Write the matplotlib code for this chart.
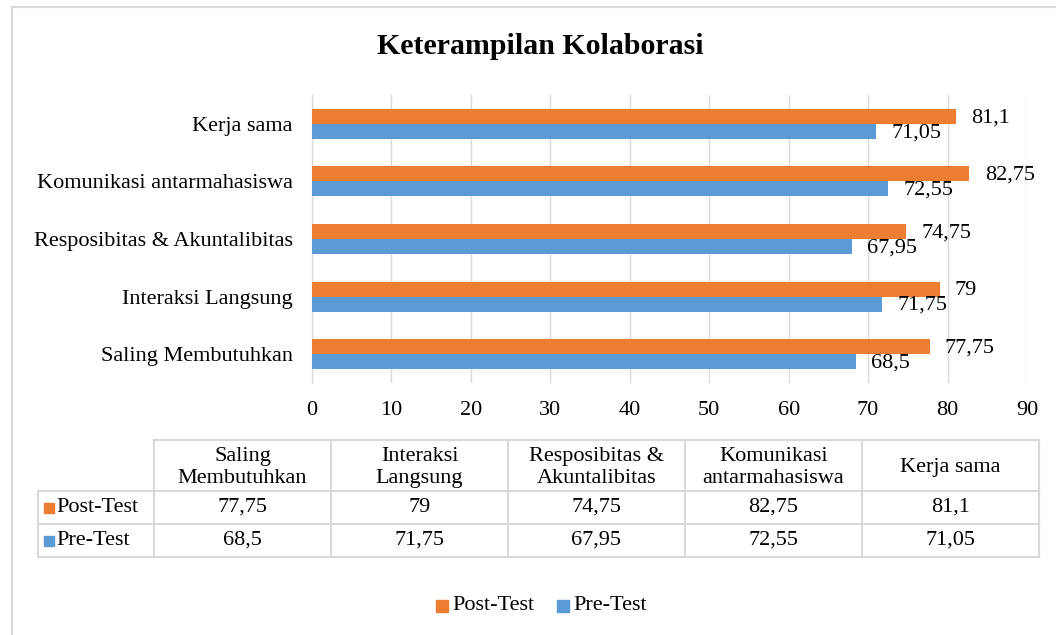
import matplotlib
matplotlib.use("Agg")
import matplotlib.pyplot as plt
from matplotlib.patches import Rectangle
import numpy as np

plt.rcParams['font.family'] = ['Liberation Serif', 'DejaVu Serif']

categories = ["Saling Membutuhkan", "Interaksi Langsung", "Resposibitas & Akuntalibitas",
              "Komunikasi antarmahasiswa", "Kerja sama"]
table_headers = ["Saling\nMembutuhkan", "Interaksi\nLangsung", "Resposibitas &\nAkuntalibitas",
                 "Komunikasi\nantarmahasiswa", "Kerja sama"]
post_test = [77.75, 79, 74.75, 82.75, 81.1]
pre_test = [68.5, 71.75, 67.95, 72.55, 71.05]
series_names = ["Post-Test", "Pre-Test"]
x_ticks = [0, 10, 20, 30, 40, 50, 60, 70, 80, 90]

ORANGE = "#ED7D31"
BLUE = "#5B9BD5"
GRID = "#D9D9D9"
FS = 16

W, H = 1056, 635
fig = plt.figure(figsize=(W / 100, H / 100), dpi=100)

def fx(px):
    return px / W

def fy(py):
    return 1 - py / H

def fmt(v):
    return f"{v:g}".replace(".", ",")

# Overlay axes in pixel coordinates for chart frame, title, table, legend
ov = fig.add_axes([0, 0, 1, 1])
ov.set_xlim(0, W)
ov.set_ylim(H, 0)
ov.axis("off")
ov.plot([12, 12, W + 5], [H + 5, 7, 7], color="#D9D9D9", lw=1.5)

# Title
ov.text(540, 47, "Keterampilan Kolaborasi", ha="center", va="center",
        fontsize=21.5, fontweight="bold")

# Main bar axes
left, right, top, bottom = 312, 1027, 95, 383
ax = fig.add_axes([fx(left), fy(bottom), fx(right) - fx(left), (bottom - top) / H])
y = np.arange(len(categories))
bh = 0.26
ax.barh(y + bh / 2, post_test, height=bh, color=ORANGE, zorder=3)
ax.barh(y - bh / 2, pre_test, height=bh, color=BLUE, zorder=3)
for yi, v in zip(y, post_test):
    ax.annotate(fmt(v), (v, yi + bh / 2), xytext=(11, -1), textcoords="offset points",
                ha="left", va="center", fontsize=FS)
for yi, v in zip(y, pre_test):
    ax.annotate(fmt(v), (v, yi - bh / 2), xytext=(11, -1), textcoords="offset points",
                ha="left", va="center", fontsize=FS)
ax.set_xlim(0, 90)
ax.set_ylim(-0.5, len(categories) - 0.5)
ax.set_xticks(x_ticks)
ax.set_xticklabels([str(t) for t in x_ticks], fontsize=FS)
ax.set_yticks(y)
ax.set_yticklabels(categories, fontsize=FS)
ax.tick_params(length=0, pad=14)
ax.tick_params(axis="x", pad=13)
ax.grid(axis="x", color=GRID, lw=1, zorder=0)
for s in ["top", "right", "bottom"]:
    ax.spines[s].set_visible(False)
ax.spines["left"].set_color(GRID)

# Data table
tl, tr = 154, 1039
rowl = 38
ys = [440, 491, 524, 557]
ncol = len(categories)
colx = np.linspace(tl, tr, ncol + 1)
lc = "#D9D9D9"
ov.plot([tl, tr], [ys[0], ys[0]], color=lc, lw=1.5)
for r in ys[1:]:
    ov.plot([rowl, tr], [r, r], color=lc, lw=1.5)
for cx in colx:
    ov.plot([cx, cx], [ys[0], ys[3]], color=lc, lw=1.5)
ov.plot([rowl, rowl], [ys[1], ys[3]], color=lc, lw=1.5)
for i, h in enumerate(table_headers):
    ov.text((colx[i] + colx[i + 1]) / 2, (ys[0] + ys[1]) / 2 + 2, h, ha="center", va="center",
            fontsize=FS, linespacing=1.2)
rows = [post_test, pre_test]
cols = [ORANGE, BLUE]
for r, (vals, name, c) in enumerate(zip(rows, series_names, cols)):
    yc = (ys[r + 1] + ys[r + 2]) / 2
    ov.add_patch(Rectangle((44, yc - 5), 10, 10, color=c))
    ov.text(56, yc, name, ha="left", va="center", fontsize=FS)
    for i, v in enumerate(vals):
        ov.text((colx[i] + colx[i + 1]) / 2, yc, fmt(v), ha="center", va="center", fontsize=FS)

# Legend
ov.add_patch(Rectangle((436, 600), 12, 12, color=ORANGE))
ov.text(452, 606, series_names[0], ha="left", va="center", fontsize=FS)
ov.add_patch(Rectangle((557, 600), 12, 12, color=BLUE))
ov.text(573, 606, series_names[1], ha="left", va="center", fontsize=FS)

fig.savefig("out.png", dpi=100)
